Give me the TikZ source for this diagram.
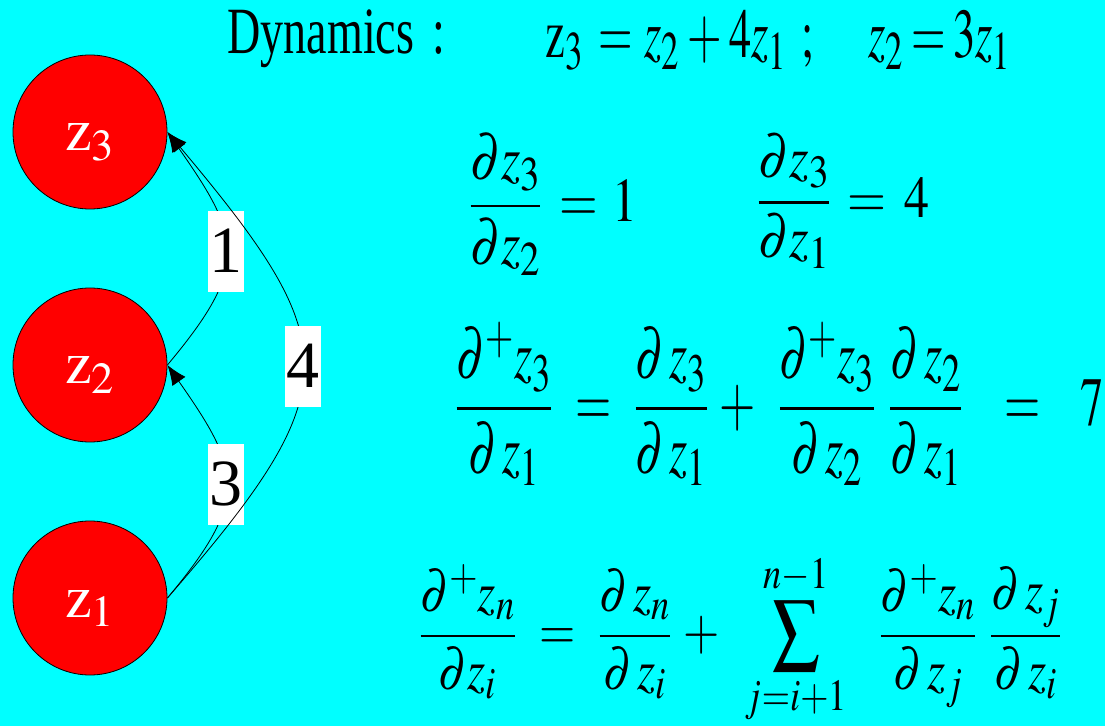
\documentclass[tikz,border=0pt]{standalone}
\usepackage{mathptmx}
\usepackage{fontspec}
\setmainfont{Liberation Serif}
\usepackage{graphicx}
\usetikzlibrary{arrows.meta}

\definecolor{bgcyan}{RGB}{0,255,255}
\definecolor{nodered}{RGB}{255,0,0}
\newcommand{\zv}{\mathit{z}}
\DeclareMathSizes{50}{50}{39}{30}

\tikzset{
  zcirc/.style={circle, draw=black, line width=0.8pt, fill=nodered, minimum size=154pt, inner sep=0pt,
    text=white, font=\fontsize{60}{70}\selectfont, text height=38pt, text depth=0pt},
  wlabel/.style={fill=white, text=black, inner sep=0pt, minimum width=36pt,
    minimum height=81pt, font=\fontsize{66}{76}\selectfont},
  eqn/.style={anchor=north west, inner sep=0pt, font=\fontsize{50}{60}\selectfont},
  arr/.style={-{Latex[length=20pt,width=16pt]}},
}

\begin{document}
\begin{tikzpicture}[x=1pt, y=1pt, line width=0.8pt, node distance=233pt]
\fill[bgcyan] (0,0) rectangle (1105,726);
\useasboundingbox (0,0) rectangle (1105,726);

% the three variables
\node[name=z1, zcirc] at (90,128) {$\mathrm{z}_1$};
\node[name=z2, zcirc, above of=z1] {$\mathrm{z}_2$};
\node[name=z3, zcirc, above of=z2] {$\mathrm{z}_3$};

\draw(z2.east) edge[arr, out=50, in=-55, looseness=1.42]node[name=w1, wlabel]{1}(z3.east);
\draw(z1.east) edge[arr, out=50, in=-55, looseness=1.42]node[name=w3, wlabel]{3}(z2.east);
\draw(z1.east) edge[arr, out=49, in=-50, looseness=1.53]node[name=w4, wlabel]{4}(z3.east);

% equations
\node[name=dyn, eqn] at (227,717) {\resizebox*{218pt}{58pt}{Dynamics\hspace{.4em}:}};
\node[name=eqa, eqn] at (545,716) {\resizebox*{465pt}{60pt}{$\mathrm{z}_3\hspace{.35em}{=}\hspace{.25em}\zv_2
  \hspace{.2em}{+}\hspace{.15em}4\zv_1\hspace{.35em};\hspace{1.1em}\zv_2\hspace{.2em}{=}\hspace{.15em}3\zv_1$}};
\node[name=eqb, eqn] at (469,593) {\resizebox*{168pt}{142pt}{$\displaystyle
  \frac{\partial \zv_3}{\partial \zv_2}\hspace{.35em}{=}\hspace{.3em}1$}};
\node[name=eqc, eqn] at (757,593) {\resizebox*{172pt}{135pt}{$\displaystyle
  \frac{\partial \zv_3}{\partial \zv_1}\hspace{.35em}{=}\hspace{.35em}4$}};
\node[name=eqd, eqn] at (455,404) {\resizebox*{648pt}{163pt}{$\displaystyle
  \frac{\partial^+ \zv_3}{\partial\, \zv_1}\hspace{.5em}{=}\hspace{.5em}
  \frac{\partial\, \zv_3}{\partial\, \zv_1}\hspace{.25em}{+}\hspace{.5em}
  \frac{\partial^+ \zv_3}{\partial\, \zv_2}\hspace{.3em}
  \frac{\partial\, \zv_2}{\partial\, \zv_1}\hspace{.9em}{=}\hspace{.85em}7$}};
\node[name=eqe, eqn] at (419,173) {\resizebox*{642pt}{172pt}{$\displaystyle
  \frac{\partial^+ \zv_n}{\partial \zv_i}\hspace{.5em}{=}\hspace{.5em}
  \frac{\partial\, \zv_n}{\partial\, \zv_i}\hspace{.25em}{+}\hspace{.45em}
  \sum_{j=i+1}^{n-1}\hspace{.6em}
  \frac{\partial^+ \zv_n}{\partial\, \zv_j}\hspace{.3em}
  \frac{\partial\, \zv_j}{\partial\, \zv_i}$}};
\end{tikzpicture}
\end{document}
